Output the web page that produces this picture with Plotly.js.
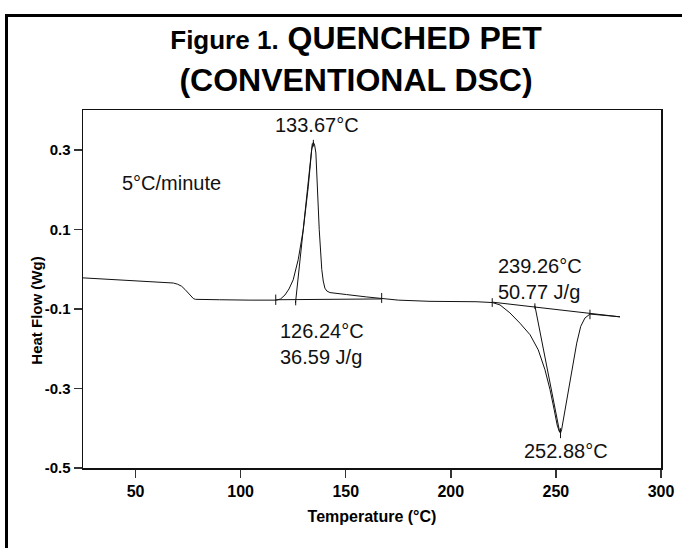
<!DOCTYPE html>
<html>
<head>
<meta charset="utf-8">
<script src="https://cdn.plot.ly/plotly-3.0.1.min.js"></script>
<style>
  html, body { margin: 0; padding: 0; background: #fff; }
  #wrap { position: relative; width: 682px; height: 548px; overflow: hidden; }
  #chart { position: absolute; left: 0; top: 0; width: 682px; height: 548px; }
  #frame { position: absolute; left: 5px; top: 14px; width: 700px; height: 600px;
           border-left: 3px solid #000; border-top: 3px solid #000; pointer-events: none; }
</style>
</head>
<body>
<div id="wrap">
  <div id="chart"></div>
  <div id="frame"></div>
</div>
<script>
// ---- DSC trace (Temperature °C, Heat flow W/g) ----
const temperature = [25, 35, 48.9, 60, 66.4, 68, 70, 71.9, 73.5, 75.1, 76.5, 77.5, 78.5, 80.7, 90, 104.4, 112, 117.1,
  119, 121.1, 123, 125, 127.4, 129.8, 132.2, 133.8, 134.6, 135.2, 135.8, 136.5, 137.4, 138.6, 139.3, 140.1, 141, 142.5,
  146, 150.4, 160, 167.1, 175, 190.1, 204.4, 212, 219.7,
  223.4, 228.1, 232.9, 237.7, 241.6, 244.8, 247.2, 249.2, 250.6, 251.6, 252.2, 252.7, 253.8, 255.4, 257.5, 259.9,
  261.8, 263.8, 266.2, 272, 280.5];
const heatFlow = [-0.022, -0.025, -0.029, -0.032, -0.034, -0.035, -0.038, -0.043, -0.051, -0.060, -0.069, -0.074, -0.076, -0.076, -0.077, -0.078, -0.078, -0.078,
  -0.075, -0.065, -0.050, -0.027, 0.024, 0.099, 0.208, 0.300, 0.319, 0.312, 0.292, 0.208, 0.099, -0.001, -0.030, -0.048, -0.055, -0.059,
  -0.062, -0.064, -0.070, -0.074, -0.078, -0.081, -0.081, -0.082, -0.084,
  -0.090, -0.110, -0.136, -0.165, -0.203, -0.253, -0.303, -0.354, -0.392, -0.408, -0.412, -0.404, -0.371, -0.320, -0.253, -0.186,
  -0.144, -0.123, -0.113, -0.116, -0.120];

// ---- analysis construction lines ----
const crystBaseX = [116.7, 167.1];
const crystBaseY = [-0.077, -0.075];
const crystTangentX = [126.1, 134.1];
const crystTangentY = [-0.085, 0.316];
const meltBaseX = [219.7, 280.5];
const meltBaseY = [-0.083, -0.120];
const meltTangentX = [240.0, 251.8];
const meltTangentY = [-0.092, -0.41];
// small vertical marker ticks: [x, yLow, yHigh]
const markerX =    [116.7, 126.2, 167.1, 134.6, 219.7, 240.0, 266.2, 252.2];
const markerYLow = [-0.090, -0.091, -0.085, 0.308, -0.095, -0.100, -0.126, -0.425];
const markerYHigh= [-0.064, -0.080, -0.060, 0.325, -0.073, -0.086, -0.102, -0.400];

// ---- axes ----
const xTickVals = [50, 100, 150, 200, 250, 300];
const xTickText = ['50', '100', '150', '200', '250', '300'];
const yTickVals = [-0.5, -0.3, -0.1, 0.1, 0.3];
const yTickText = ['-0.5', '-0.3', '-0.1', '0.1', '0.3'];

// ---- labels ----
const labelText = ['133.67°C', '5°C/minute', '126.24°C<br>36.59 J/g', '239.26°C<br>50.77 J/g', '252.88°C'];
const labelX = [136.5, 67.2, 117.9, 221.5, 254.6];
const labelY = [0.3635, 0.2175, -0.189, -0.024, -0.457];
const labelAnchor = ['center', 'center', 'left', 'left', 'center'];

const lineStyle = {color: '#111', width: 1};
const traces = [
  {x: temperature, y: heatFlow, mode: 'lines', line: lineStyle, hoverinfo: 'skip'},
  {x: crystBaseX, y: crystBaseY, mode: 'lines', line: lineStyle},
  {x: crystTangentX, y: crystTangentY, mode: 'lines', line: lineStyle},
  {x: meltBaseX, y: meltBaseY, mode: 'lines', line: lineStyle},
  {x: meltTangentX, y: meltTangentY, mode: 'lines', line: lineStyle}
];
markerX.forEach((mx, i) => {
  traces.push({x: [mx, mx], y: [markerYLow[i], markerYHigh[i]], mode: 'lines', line: lineStyle});
});

const font = 'Liberation Sans, Arial, Helvetica, sans-serif';
const annotations = labelText.map((t, i) => ({
  x: labelX[i], y: labelY[i], xref: 'x', yref: 'y', text: t, showarrow: false,
  xanchor: labelAnchor[i], yanchor: 'middle', align: 'left',
  font: {family: font, size: 20, color: '#111'}
}));
// y-axis title, placed as in the reference (slightly below the plot middle)
annotations.push({
  text: 'Heat Flow (Wg)', xref: 'paper', yref: 'paper', x: -0.081, y: 0.44,
  textangle: -90, showarrow: false, xanchor: 'center', yanchor: 'middle',
  font: {family: font, size: 15, weight: 'bold', color: '#000'}
});

const layout = {
  width: 682, height: 548,
  margin: {l: 83, r: 21, t: 110, b: 80},
  paper_bgcolor: '#fff', plot_bgcolor: '#fff',
  showlegend: false,
  font: {family: font, color: '#111'},
  title: {
    text: '<span style="font-size:26px">Figure 1.</span> QUENCHED PET<br>(CONVENTIONAL DSC)',
    x: 0.522, xref: 'container', xanchor: 'center',
    y: 0.91, yref: 'container', yanchor: 'top',
    font: {family: font, size: 32, weight: 'bold', color: '#000'}
  },
  xaxis: {
    range: [25, 300], tickvals: xTickVals, ticktext: xTickText,
    ticks: 'outside', ticklen: 8, tickwidth: 1.5, tickcolor: '#333',
    showline: true, linecolor: '#111', linewidth: 1.5, mirror: true,
    showgrid: false, zeroline: false,
    tickfont: {family: font, size: 16, weight: 'bold', color: '#000'},
    title: {text: 'Temperature (°C)', standoff: 12,
            font: {family: font, size: 16, weight: 'bold', color: '#000'}}
  },
  yaxis: {
    range: [-0.5, 0.4], tickvals: yTickVals, ticktext: yTickText,
    ticks: 'outside', ticklen: 8, tickwidth: 1.5, tickcolor: '#333',
    showline: true, linecolor: '#111', linewidth: 1.5, mirror: true,
    showgrid: false, zeroline: false,
    tickfont: {family: font, size: 15, weight: 'bold', color: '#000'}
  },
  annotations: annotations
};

Plotly.newPlot('chart', traces, layout, {displayModeBar: false, staticPlot: true});
</script>
</body>
</html>
